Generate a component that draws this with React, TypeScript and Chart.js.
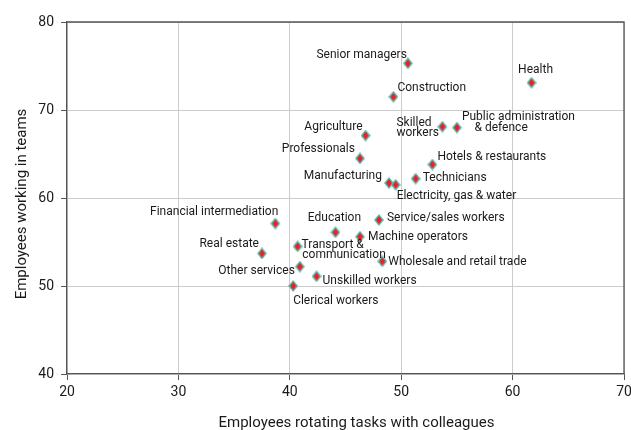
import React, { useEffect, useRef } from "react";
import { Chart, registerables } from "chart.js";

Chart.register(...registerables);

const sectors: string[] = [
  "Senior managers",
  "Construction",
  "Health",
  "Skilled\nworkers",
  "Public administration\n& defence",
  "Agriculture",
  "Professionals",
  "Hotels & restaurants",
  "Technicians",
  "Manufacturing",
  "Electricity, gas & water",
  "Financial intermediation",
  "Real estate",
  "Transport &\ncommunication",
  "Other services",
  "Clerical workers",
  "Unskilled workers",
  "Education",
  "Machine operators",
  "Service/sales workers",
  "Wholesale and retail trade",
];

const rotatingTasks: number[] = [
  50.6, 49.3, 61.7, 53.7, 55.0, 46.8, 46.3, 52.8, 51.3, 48.9, 49.5,
  38.7, 37.5, 40.7, 40.9, 40.3, 42.4, 44.1, 46.3, 48.0, 48.3,
];

const workingInTeams: number[] = [
  75.3, 71.5, 73.1, 68.1, 68.0, 67.1, 64.5, 63.8, 62.2, 61.7, 61.5,
  57.1, 53.7, 54.5, 52.2, 50.0, 51.1, 56.1, 55.6, 57.5, 52.8,
];

const xTicks: number[] = [20, 30, 40, 50, 60, 70];
const yTicks: number[] = [40, 50, 60, 70, 80];

const xTitle = "Employees rotating tasks with colleagues";
const yTitle = "Employees working in teams";

// label placement relative to each point (pixels): dx, dy, align, per-line extra dx
type Place = { dx: number; dy: number; align: CanvasTextAlign; lineDx?: number[]; lh?: number };
const labelPlacement: Place[] = [
  { dx: -1, dy: -8, align: "right" },
  { dx: 4, dy: -9, align: "left" },
  { dx: 4, dy: -13, align: "center" },
  { dx: -46, dy: -4, align: "left", lh: 10 },
  { dx: 5, dy: -11, align: "left", lineDx: [0, 12.6], lh: 11 },
  { dx: -3, dy: -9, align: "right" },
  { dx: -5, dy: -9, align: "right" },
  { dx: 5, dy: -8, align: "left" },
  { dx: 7, dy: -1, align: "left" },
  { dx: -7, dy: -7, align: "right" },
  { dx: 1, dy: 11, align: "left" },
  { dx: 3, dy: -12, align: "right" },
  { dx: -3, dy: -9, align: "right" },
  { dx: 4, dy: -1, align: "left", lineDx: [0, 0.7], lh: 10 },
  { dx: -5, dy: 4, align: "right" },
  { dx: 0, dy: 15, align: "left" },
  { dx: 6, dy: 5, align: "left" },
  { dx: -1, dy: -14, align: "center" },
  { dx: 8, dy: 0, align: "left" },
  { dx: 8, dy: -2, align: "left" },
  { dx: 6, dy: 1, align: "left" },
];

const FONT = "Roboto, 'Noto Sans', sans-serif";
const CW = 680;
const CH = 440;

function makeDiamond(): HTMLCanvasElement {
  const c = document.createElement("canvas");
  c.width = 10;
  c.height = 12;
  const g = c.getContext("2d")!;
  g.fillStyle = "#5cb8aa";
  g.beginPath();
  g.moveTo(5, 0);
  g.lineTo(10, 6);
  g.lineTo(5, 12);
  g.lineTo(0, 6);
  g.closePath();
  g.fill();
  g.fillStyle = "#e8202a";
  g.beginPath();
  g.moveTo(5, 2);
  g.lineTo(8, 6);
  g.lineTo(5, 10);
  g.lineTo(2, 6);
  g.closePath();
  g.fill();
  return c;
}

export default function App() {
  const ref = useRef<HTMLCanvasElement | null>(null);

  useEffect(() => {
    if (!ref.current) return;
    const diamond = makeDiamond();

    const decor = {
      id: "decor",
      afterDatasetsDraw(chart: any) {
        const ctx = chart.ctx as CanvasRenderingContext2D;
        const a = chart.chartArea;
        ctx.save();
        // frame top/right
        ctx.strokeStyle = "#555555";
        ctx.lineWidth = 1.3;
        ctx.beginPath();
        ctx.moveTo(a.left, a.top);
        ctx.lineTo(a.right, a.top);
        ctx.lineTo(a.right, a.bottom);
        ctx.stroke();

        // point labels
        const meta = chart.getDatasetMeta(0);
        ctx.fillStyle = "#1a1a1a";
        ctx.font = `12px ${FONT}`;
        ctx.textBaseline = "middle";
        meta.data.forEach((pt: any, i: number) => {
          const p = labelPlacement[i];
          const lines = sectors[i].split("\n");
          ctx.textAlign = p.align;
          lines.forEach((ln, j) => {
            const extra = p.lineDx ? p.lineDx[j] || 0 : 0;
            ctx.fillText(ln, pt.x + p.dx + extra, pt.y + p.dy + j * (p.lh || 12));
          });
        });

        // axis titles
        ctx.font = `15px ${FONT}`;
        ctx.fillStyle = "#1a1a1a";
        ctx.textAlign = "center";
        ctx.fillText(xTitle, (a.left + a.right) / 2 + 11, 423);
        ctx.translate(22, (a.top + a.bottom) / 2 + 6);
        ctx.rotate(-Math.PI / 2);
        ctx.fillText(yTitle, 0, 0);
        ctx.restore();
      },
    };

    const chart = new Chart(ref.current, {
      type: "scatter",
      data: {
        datasets: [
          {
            label: "Sectors",
            data: rotatingTasks.map((x, i) => ({ x, y: workingInTeams[i] })),
            pointStyle: diamond as any,
            pointRadius: 6,
          },
        ],
      },
      options: {
        responsive: false,
        animation: false,
        devicePixelRatio: 1,
        layout: { padding: { left: 0, top: 22, right: CW - 624, bottom: 0 } },
        plugins: { legend: { display: false }, tooltip: { enabled: false } },
        scales: {
          x: {
            type: "linear",
            min: xTicks[0],
            max: xTicks[xTicks.length - 1],
            afterBuildTicks: (s: any) => {
              s.ticks = xTicks.map((v) => ({ value: v }));
            },
            afterFit: (s: any) => {
              s.height = CH - 374;
            },
            ticks: {
              color: "#1a1a1a",
              font: { family: FONT, size: 14 },
              padding: 4,
            },
            grid: {
              color: "#cccccc",
              lineWidth: 1,
              tickColor: "#555555",
              tickLength: 6,
            },
            border: { color: "#555555", width: 1.3 },
          },
          y: {
            type: "linear",
            min: yTicks[0],
            max: yTicks[yTicks.length - 1],
            afterBuildTicks: (s: any) => {
              s.ticks = yTicks.map((v) => ({ value: v }));
            },
            afterFit: (s: any) => {
              s.width = 67;
            },
            ticks: {
              color: "#1a1a1a",
              font: { family: FONT, size: 14 },
              padding: 7,
            },
            grid: {
              color: "#cccccc",
              lineWidth: 1,
              tickColor: "#555555",
              tickLength: 6,
            },
            border: { color: "#555555", width: 1.3 },
          },
        },
      },
      plugins: [decor],
    });
    return () => chart.destroy();
  }, []);

  return (
    <div
      style={{
        position: "fixed",
        left: 0,
        top: 0,
        width: 631,
        height: 430,
        overflow: "hidden",
        background: "#fff",
      }}
    >
      <canvas ref={ref} width={CW} height={CH} style={{ width: CW, height: CH, display: "block" }} />
    </div>
  );
}
